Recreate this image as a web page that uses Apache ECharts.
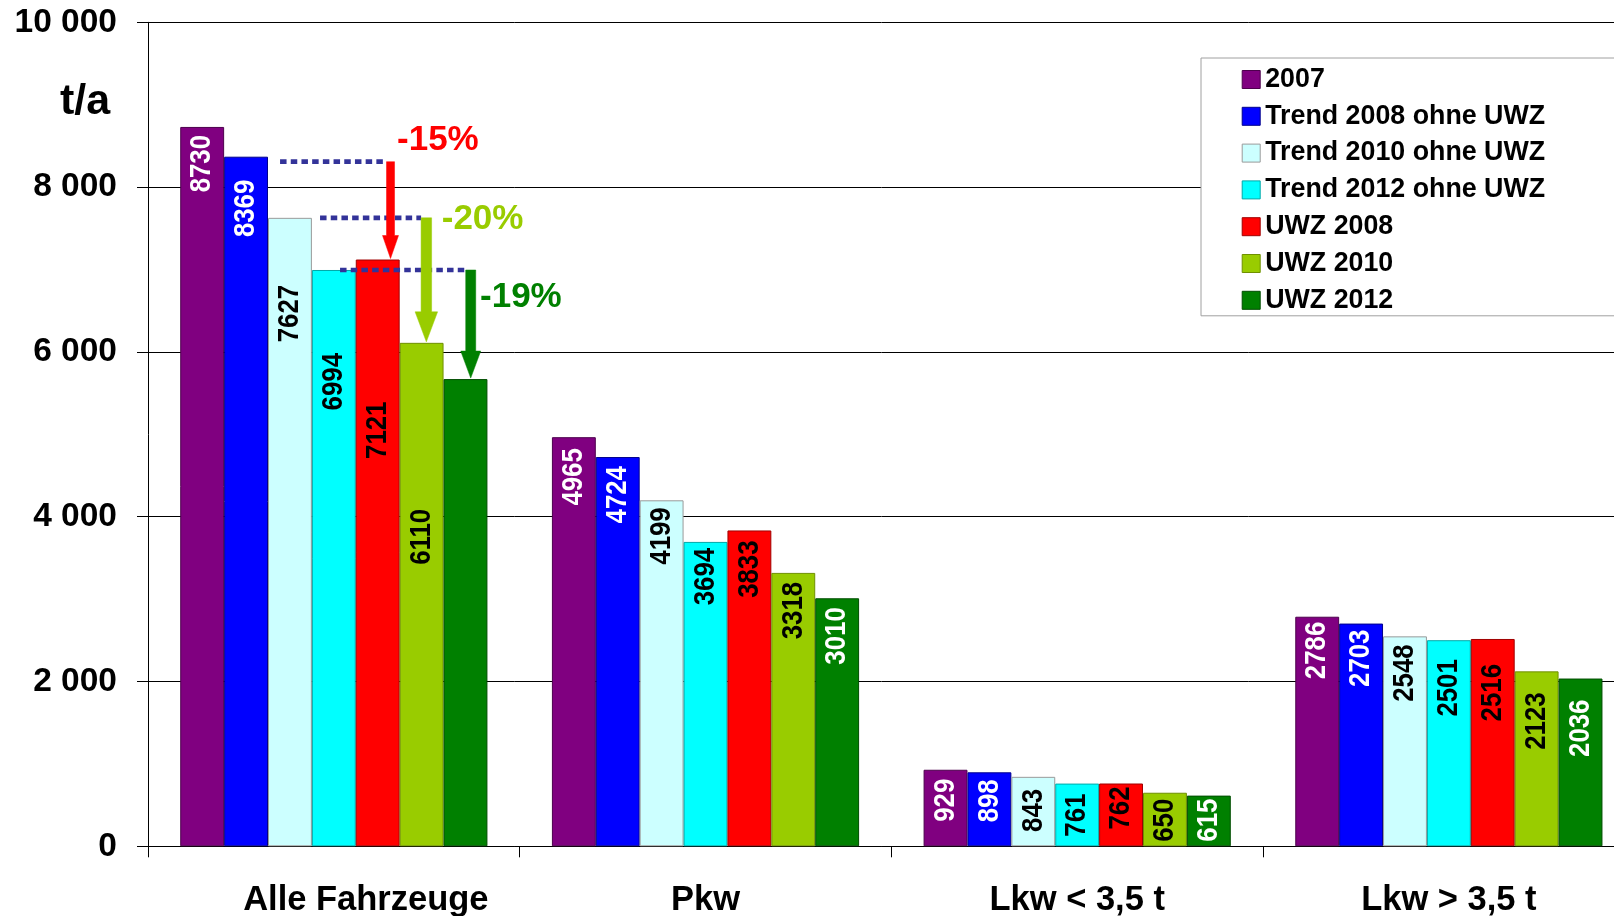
<!DOCTYPE html>
<html>
<head>
<meta charset="utf-8">
<script src="https://cdn.jsdelivr.net/npm/echarts@6/dist/echarts.min.js"></script>
<style>
  html, body { margin: 0; padding: 0; background: #fff; }
  #chart { width: 1614px; height: 916px; }
</style>
</head>
<body>
<div id="chart"></div>
<script>
// ---- data ----
const categories = ['Alle Fahrzeuge', 'Pkw', 'Lkw < 3,5 t', 'Lkw > 3,5 t'];
const seriesNames = ['2007', 'Trend 2008 ohne UWZ', 'Trend 2010 ohne UWZ', 'Trend 2012 ohne UWZ', 'UWZ 2008', 'UWZ 2010', 'UWZ 2012'];
const v2007      = [8730, 4965, 929, 2786];
const trend2008  = [8369, 4724, 898, 2703];
const trend2010  = [7627, 4199, 843, 2548];
const trend2012  = [6994, 3694, 761, 2501];
const uwz2008    = [7121, 3833, 762, 2516];
const uwz2010    = [6110, 3318, 650, 2123];
const uwz2012    = [5670, 3010, 615, 2036];
const yTicks = [0, 2000, 4000, 6000, 8000, 10000];
const unitLabel = 't/a';
// reduction arrows in "Alle Fahrzeuge": [trend series index, zone series index]
const reductions = [[1, 4], [2, 5], [3, 6]];

const values = [v2007, trend2008, trend2010, trend2012, uwz2008, uwz2010, uwz2012];

// ---- styling ----
const FONT = '"Liberation Sans", Arial, sans-serif';
const colors  = ['#800080', '#0000FF', '#CCFFFF', '#00FFFF', '#FF0000', '#99CC00', '#008000'];
const borders = ['#4d004d', '#00008c', '#9a9a9a', '#00a9a9', '#a00000', '#6f9000', '#004d00'];
const labelColors = ['#fff', '#fff', '#000', '#000', '#000', '#000', '#fff'];
const CAT_GAP = 0.1735;          // share of a category band left empty
// inset of each value label below its bar top (null = no label)
const labelInset = [
  [8, 11, 9, 5],
  [23, 9, 7, 6],
  [67, 7, 12, 8],
  [83, 6, 10, 19],
  [142, 10, 3, 25],
  [166, 9, 6, 21],
  [null, 9, 3, 21]
];
// arrow geometry: x offsets as fractions of the category band from its centre
const arrowStyle = [
  { color: '#FF0000', dx: 0.1525, lineStart: -0.1447, lineShift: 5, shaft: 8,  headW: 16, headH: 23, textDx: 6.5, textDy: -16.7 },
  { color: '#99CC00', dx: 0.2489, lineStart: -0.0371, lineShift: 0, shaft: 10.5, headW: 22.5, headH: 30, textDx: 15.4, textDy: 2 },
  { color: '#008000', dx: 0.3683, lineStart: 0.0167,  lineShift: 0, shaft: 10, headW: 20, headH: 27, textDx: 9.3, textDy: 27 }
];

const fmtThousands = v => String(v).replace(/\B(?=(\d{3})+(?!\d))/g, ' ');

const barSeries = seriesNames.map((name, i) => ({
  name,
  type: 'bar',
  barGap: '0%',
  barCategoryGap: (CAT_GAP * 100) + '%',
  itemStyle: { color: colors[i], borderColor: borders[i], borderWidth: 1 },
  emphasis: { disabled: true },
  data: values[i]
}));

// vertical, slightly condensed value labels inside the bar tops
const labelSeries = {
  name: 'values',
  type: 'custom',
  coordinateSystem: 'cartesian2d',
  z: 8,
  silent: true,
  data: [[0, 0]],
  renderItem: function (params, api) {
    const band = api.size([1, 0])[0];
    const barW = band * (1 - CAT_GAP) / values.length;
    const children = [];
    values.forEach((arr, i) => {
      arr.forEach((v, j) => {
        if (labelInset[i][j] == null) return;
        const p = api.coord([j, v]);
        children.push({
          type: 'text',
          x: p[0] + (i - (values.length - 1) / 2) * barW,
          y: p[1] + labelInset[i][j],
          rotation: Math.PI / 2,
          scaleX: 0.86,
          style: {
            text: String(v), fill: labelColors[i], font: 'bold 30px ' + FONT,
            align: 'right', verticalAlign: 'middle', textAlign: 'right', textVerticalAlign: 'middle'
          }
        });
      });
    });
    return { type: 'group', children };
  }
};

const arrowSeries = {
  name: 'reduction',
  type: 'custom',
  coordinateSystem: 'cartesian2d',
  z: 10,
  silent: true,
  data: [[0, 0]],
  renderItem: function (params, api) {
    const band = api.size([1, 0])[0];
    const lines = [], arrows = [], texts = [];
    reductions.forEach(([a, b], k) => {
      const st = arrowStyle[k];
      const from = values[a][0], to = values[b][0];
      const p = api.coord([0, from]);
      const yTo = api.coord([0, to])[1] - 1;
      const x = p[0] + st.dx * band;
      const yLine = p[1] + st.lineShift;
      lines.push({
        type: 'line',
        shape: { x1: p[0] + st.lineStart * band, y1: yLine, x2: x - st.shaft / 2, y2: yLine },
        style: { stroke: '#333399', lineWidth: 4.7, lineDash: [6.5, 4.2], lineCap: 'butt' }
      });
      const hs = st.shaft / 2, hw = st.headW / 2, yHead = yTo - st.headH;
      arrows.push({
        type: 'polygon',
        shape: { points: [
          [x - hs, yLine], [x + hs, yLine], [x + hs, yHead], [x + hw, yHead],
          [x, yTo], [x - hw, yHead], [x - hs, yHead]
        ] },
        style: { fill: st.color, stroke: st.color, lineWidth: 0.5 }
      });
      const pct = Math.round((to - from) / from * 100);
      const txt = (pct > 0 ? '+' : '') + pct + '%';
      texts.push({
        type: 'text',
        x: x + st.textDx,
        y: p[1] + st.textDy,
        style: {
          text: txt, fill: st.color, font: 'bold 35px ' + FONT,
          align: 'left', verticalAlign: 'middle', textAlign: 'left', textVerticalAlign: 'middle'
        }
      });
    });
    return { type: 'group', children: lines.concat(arrows, texts) };
  }
};

const chart = echarts.init(document.getElementById('chart'), null, { renderer: 'canvas' });
chart.setOption({
  animation: false,
  backgroundColor: '#fff',
  textStyle: { fontFamily: FONT },
  // the plot runs a little past the right edge of the canvas
  grid: { left: 148, right: -20.7, top: 22.3, bottom: 69.7, containLabel: false, outerBoundsMode: 'none' },
  legend: {
    data: seriesNames,
    orient: 'vertical',
    left: 1201,
    top: 58,
    padding: [8, 110, 2, 40.7],
    itemWidth: 18,
    itemHeight: 18,
    itemGap: 9.8,
    icon: 'rect',
    selectedMode: false,
    backgroundColor: '#fff',
    borderColor: '#a0a0a0',
    borderWidth: 1,
    itemStyle: { borderWidth: 1 },
    textStyle: { fontSize: 26.8, lineHeight: 26, fontWeight: 'bold', color: '#000', fontFamily: FONT }
  },
  xAxis: {
    type: 'category',
    data: categories,
    axisLine: { lineStyle: { color: '#000', width: 1 } },
    axisTick: { show: true, length: 11, lineStyle: { color: '#000', width: 1 } },
    axisLabel: {
      margin: 37,
      fontSize: 34.5,
      fontWeight: 'bold',
      color: '#000',
      fontFamily: FONT,
      interval: 0,
      formatter: (v, i) => i === 0 ? '{shift|' + v + '}' : v,
      rich: { shift: { padding: [0, 0, 0, 64], fontSize: 34.5, fontWeight: 'bold', color: '#000', fontFamily: FONT } }
    }
  },
  yAxis: {
    type: 'value',
    min: yTicks[0],
    max: yTicks[yTicks.length - 1],
    interval: yTicks[1] - yTicks[0],
    axisLine: { show: true, lineStyle: { color: '#000', width: 1 } },
    axisTick: { show: true, length: 11, lineStyle: { color: '#000', width: 1 } },
    splitLine: { show: true, lineStyle: { color: '#000', width: 1 } },
    axisLabel: { margin: 31, fontSize: 33.5, fontWeight: 'bold', color: '#000', fontFamily: FONT, formatter: fmtThousands }
  },
  graphic: [{
    type: 'text',
    x: 85,
    y: 102,
    style: {
      text: unitLabel, fill: '#000', font: 'bold 43px ' + FONT,
      align: 'center', verticalAlign: 'middle', textAlign: 'center', textVerticalAlign: 'middle'
    }
  }],
  series: barSeries.concat([labelSeries, arrowSeries])
});
</script>
</body>
</html>
